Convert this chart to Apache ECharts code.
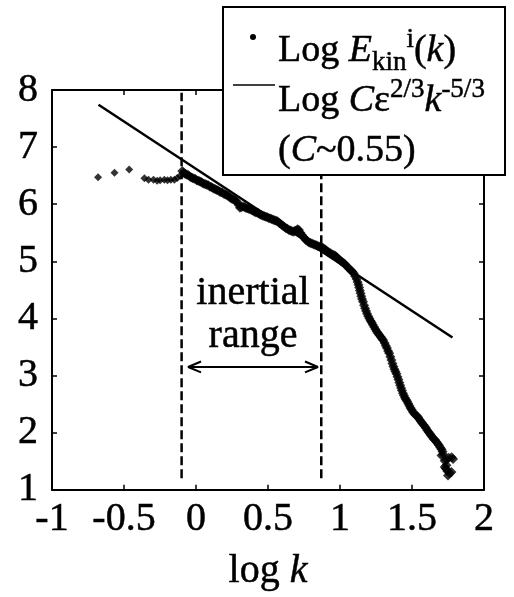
<!DOCTYPE html>
<html>
<head>
<meta charset="utf-8">
<script src="https://cdn.jsdelivr.net/npm/echarts@6/dist/echarts.min.js"></script>
<style>
html,body{margin:0;padding:0;background:#fff;}
#chart{width:514px;height:597px;}
</style>
</head>
<body>
<div id="chart"></div>
<script>
// ---- data ----
// sparse low-k points
const lowK = [-0.68, -0.566, -0.464, -0.358, -0.33, -0.295, -0.27, -0.249, -0.22, -0.198, -0.175, -0.15, -0.13, -0.11];
const lowE = [6.47, 6.55, 6.61, 6.456, 6.43, 6.43, 6.41, 6.42, 6.43, 6.42, 6.43, 6.43, 6.46, 6.50];
// dense band of points
const bandK = [
  -0.095, -0.085, -0.075, -0.065, -0.055, -0.045, -0.035, -0.025, -0.015, -0.005,
  0.005, 0.015, 0.025, 0.035, 0.045, 0.055, 0.065, 0.075, 0.085, 0.095,
  0.105, 0.115, 0.125, 0.135, 0.145, 0.155, 0.165, 0.175, 0.185, 0.195,
  0.205, 0.215, 0.225, 0.235, 0.245, 0.255, 0.265, 0.275, 0.285, 0.295,
  0.305, 0.315, 0.325, 0.335, 0.345, 0.355, 0.365, 0.375, 0.385, 0.395,
  0.405, 0.415, 0.425, 0.435, 0.445, 0.455, 0.465, 0.475, 0.485, 0.495,
  0.505, 0.515, 0.525, 0.535, 0.545, 0.555, 0.565, 0.575, 0.585, 0.595,
  0.605, 0.615, 0.625, 0.635, 0.645, 0.655, 0.665, 0.675, 0.685, 0.695,
  0.705, 0.715, 0.725, 0.735, 0.745, 0.755, 0.765, 0.775, 0.785, 0.795,
  0.805, 0.815, 0.825, 0.835, 0.845, 0.855, 0.865, 0.875, 0.885, 0.895,
  0.905, 0.915, 0.925, 0.935, 0.945, 0.955, 0.965, 0.975, 0.985, 0.995,
  1.005, 1.015, 1.025, 1.035, 1.045, 1.055, 1.065, 1.075, 1.085, 1.095,
  1.105, 1.115, 1.122, 1.128, 1.133, 1.138, 1.143, 1.148, 1.153, 1.160,
  1.167, 1.174, 1.181, 1.188, 1.196, 1.204, 1.212, 1.220, 1.228, 1.237,
  1.246, 1.255, 1.264, 1.273, 1.282, 1.291, 1.300, 1.310, 1.318, 1.326,
  1.334, 1.342, 1.350, 1.357, 1.364, 1.371, 1.378, 1.385, 1.392, 1.399,
  1.406, 1.412, 1.418, 1.424, 1.430, 1.437, 1.444, 1.451, 1.458, 1.466,
  1.474, 1.482, 1.490, 1.498, 1.507, 1.516, 1.525, 1.534, 1.543, 1.552,
  1.561, 1.570, 1.579, 1.588, 1.597, 1.606, 1.615, 1.624, 1.633, 1.642,
  1.651, 1.660, 1.669, 1.678, 1.687, 1.696, 1.705, 1.712,
  1.705, 1.716, 1.727, 1.740, 1.755, 1.775, 1.785, 1.727, 1.739, 1.745, 1.750, 1.762, 1.774, 1.735
];
const bandE = [
  6.58, 6.55, 6.53, 6.52, 6.51, 6.49, 6.47, 6.46, 6.45, 6.44,
  6.42, 6.41, 6.40, 6.39, 6.37, 6.36, 6.35, 6.34, 6.33, 6.31,
  6.30, 6.29, 6.27, 6.26, 6.25, 6.24, 6.22, 6.21, 6.20, 6.18,
  6.17, 6.16, 6.14, 6.12, 6.10, 6.09, 6.08, 6.06, 6.04, 5.99,
  5.94, 5.95, 5.96, 5.95, 5.94, 5.93, 5.92, 5.91, 5.90, 5.89,
  5.87, 5.86, 5.85, 5.84, 5.82, 5.81, 5.80, 5.79, 5.78, 5.77,
  5.76, 5.75, 5.74, 5.73, 5.72, 5.71, 5.70, 5.68, 5.66, 5.64,
  5.62, 5.60, 5.58, 5.57, 5.55, 5.54, 5.53, 5.52, 5.53, 5.54,
  5.56, 5.55, 5.50, 5.46, 5.43, 5.40, 5.37, 5.35, 5.33, 5.32,
  5.31, 5.30, 5.29, 5.28, 5.27, 5.26, 5.25, 5.24, 5.23, 5.21,
  5.19, 5.17, 5.15, 5.14, 5.12, 5.11, 5.10, 5.08, 5.05, 5.03,
  5.01, 4.99, 4.97, 4.95, 4.92, 4.89, 4.87, 4.84, 4.82, 4.79,
  4.74, 4.69, 4.64, 4.59, 4.54, 4.49, 4.44, 4.39, 4.34, 4.29,
  4.23, 4.18, 4.13, 4.08, 4.04, 4.00, 3.96, 3.93, 3.89, 3.85,
  3.81, 3.77, 3.74, 3.71, 3.68, 3.65, 3.62, 3.57, 3.52, 3.48,
  3.43, 3.39, 3.33, 3.27, 3.21, 3.16, 3.11, 3.07, 3.03, 2.98,
  2.93, 2.88, 2.83, 2.78, 2.74, 2.69, 2.65, 2.61, 2.58, 2.55,
  2.51, 2.47, 2.43, 2.40, 2.36, 2.33, 2.31, 2.29, 2.27, 2.23,
  2.20, 2.17, 2.14, 2.11, 2.08, 2.04, 2.01, 1.98, 1.95, 1.92,
  1.89, 1.87, 1.84, 1.81, 1.78, 1.74, 1.71, 1.67,
  1.60, 1.62, 1.51, 1.52, 1.56, 1.57, 1.54, 1.40, 1.43, 1.33, 1.25, 1.29, 1.31, 1.37
];
const fitK = [-0.677, 1.781];
const fitE = [7.743, 3.665];
const inertialBounds = [-0.1, 0.87];
const dashedSpan = [1.2, 7.95];
const arrowK = [-0.055, 0.847];
const arrowE = 3.15;
const arrowHeadK = 0.09;
const arrowHeadE = 0.095;
const xTickLabels = ['-1', '-0.5', '0', '0.5', '1', '1.5', '2'];
const yTickLabels = ['1', '2', '3', '4', '5', '6', '7', '8'];
const xMin = -1, xMax = 2, xStep = 0.5;
const yMin = 1, yMax = 8, yStep = 1;

// ---- chart ----
const FONT = "'Liberation Serif', 'Times New Roman', serif";
const chart = echarts.init(document.getElementById('chart'), null, {renderer: 'canvas'});

const lowPts = lowK.map((k, i) => [k, lowE[i]]);
const bandPts = bandK.map((k, i) => [k, bandE[i]]);
const fitLine = fitK.map((k, i) => [k, fitE[i]]);

const axisCommon = {
  axisLine: {show: true, onZero: false, lineStyle: {color: '#000', width: 2}},
  axisTick: {show: true, inside: true, length: 5, lineStyle: {color: '#000', width: 1.5}},
  splitLine: {show: false}
};
const TB = {textBorderColor: '#000', textBorderWidth: 0.5};

const option = {
  backgroundColor: '#fff',
  animation: false,
  grid: {left: 52, right: 30, top: 90, bottom: 99, containLabel: false},
  xAxis: [
    Object.assign({
      type: 'value', min: xMin, max: xMax, interval: xStep, position: 'bottom',
      name: '{a|log }{i|k}', nameLocation: 'middle', nameGap: 62,
      nameTextStyle: {rich: {
        a: Object.assign({fontFamily: FONT, fontSize: 40, color: '#000'}, TB),
        i: Object.assign({fontFamily: FONT, fontSize: 40, fontStyle: 'italic', color: '#000'}, TB)
      }},
      axisLabel: Object.assign({
        fontFamily: FONT, fontSize: 40, color: '#000', margin: 10,
        formatter: v => xTickLabels[Math.round((v - xMin) / xStep)]
      }, TB)
    }, axisCommon),
    Object.assign({
      type: 'value', min: xMin, max: xMax, interval: xStep, position: 'top',
      axisLabel: {show: false}
    }, axisCommon)
  ],
  yAxis: [
    Object.assign({
      type: 'value', min: yMin, max: yMax, interval: yStep, position: 'left',
      axisLabel: Object.assign({
        fontFamily: FONT, fontSize: 40, color: '#000', margin: 14,
        formatter: v => yTickLabels[Math.round((v - yMin) / yStep)]
      }, TB)
    }, axisCommon),
    Object.assign({
      type: 'value', min: yMin, max: yMax, interval: yStep, position: 'right',
      axisLabel: {show: false}
    }, axisCommon)
  ],
  series: [
    {
      type: 'line', data: [[inertialBounds[0], dashedSpan[0]], [inertialBounds[0], dashedSpan[1]]],
      symbol: 'none', lineStyle: {color: '#000', width: 2.5, type: [9, 4]}, silent: true, z: 2
    },
    {
      type: 'line', data: [[inertialBounds[1], dashedSpan[0]], [inertialBounds[1], dashedSpan[1]]],
      symbol: 'none', lineStyle: {color: '#000', width: 2.5, type: [9, 4]}, silent: true, z: 2
    },
    {
      type: 'line', data: fitLine, symbol: 'none',
      lineStyle: {color: '#000', width: 2.5}, z: 3
    },
    {
      type: 'scatter', data: lowPts, symbol: 'diamond', symbolSize: 8,
      itemStyle: {color: '#000'}, z: 4
    },
    {
      type: 'scatter', data: bandPts, symbol: 'diamond', symbolSize: 10,
      itemStyle: {color: '#000'}, z: 4
    },
    {
      type: 'line', data: [[arrowK[0], arrowE], [arrowK[1], arrowE]], symbol: 'none',
      lineStyle: {color: '#000', width: 2}, z: 3
    },
    {
      type: 'line', data: [[arrowK[0] + arrowHeadK, arrowE + arrowHeadE], [arrowK[0], arrowE], [arrowK[0] + arrowHeadK, arrowE - arrowHeadE]],
      symbol: 'none', lineStyle: {color: '#000', width: 2}, z: 3
    },
    {
      type: 'line', data: [[arrowK[1] - arrowHeadK, arrowE + arrowHeadE], [arrowK[1], arrowE], [arrowK[1] - arrowHeadK, arrowE - arrowHeadE]],
      symbol: 'none', lineStyle: {color: '#000', width: 2}, z: 3
    }
  ],
  graphic: [
    {type: 'text', x: 253, y: 293, z: 50,
      style: Object.assign({text: 'inertial', fontFamily: FONT, fontSize: 40, fill: '#000', stroke: '#000', lineWidth: 0.5, align: 'center', verticalAlign: 'middle'})},
    {type: 'text', x: 253, y: 336, z: 50,
      style: {text: 'range', fontFamily: FONT, fontSize: 40, fill: '#000', stroke: '#000', lineWidth: 0.5, align: 'center', verticalAlign: 'middle'}},
    // legend box
    {type: 'rect', z: 100, shape: {x: 223, y: 7, width: 282, height: 168},
      style: {fill: '#fff', stroke: '#000', lineWidth: 2}},
    {type: 'circle', z: 101, shape: {cx: 253, cy: 37, r: 3}, style: {fill: '#000'}},
    {type: 'line', z: 101, shape: {x1: 233, y1: 85, x2: 275, y2: 85}, style: {stroke: '#000', lineWidth: 1.5}},
    {type: 'text', z: 101, x: 278, y: 26,
      style: {
        text: '{a|Log }{i|E}{sub|kin}{sup|i}{a|(}{i|k}{a|)}',
        verticalAlign: 'top', align: 'left', stroke: '#000', lineWidth: 0.5,
        rich: {
          a: {fontFamily: FONT, fontSize: 38, lineHeight: 50, fill: '#000'},
          i: {fontFamily: FONT, fontSize: 38, fontStyle: 'italic', lineHeight: 50, fill: '#000'},
          sub: {fontFamily: FONT, fontSize: 27, lineHeight: 32, verticalAlign: 'bottom', fill: '#000'},
          sup: {fontFamily: FONT, fontSize: 27, lineHeight: 32, verticalAlign: 'top', fill: '#000'}
        }
      }},
    {type: 'text', z: 101, x: 278, y: 76,
      style: {
        text: '{a|Log }{i|C}{a|ε}{sup|2/3}{i|k}{sup|-5/3}',
        verticalAlign: 'top', align: 'left', stroke: '#000', lineWidth: 0.5,
        rich: {
          a: {fontFamily: FONT, fontSize: 38, lineHeight: 50, fill: '#000'},
          i: {fontFamily: FONT, fontSize: 38, fontStyle: 'italic', lineHeight: 50, fill: '#000'},
          sup: {fontFamily: FONT, fontSize: 27, lineHeight: 16, verticalAlign: 'top', fill: '#000'}
        }
      }},
    {type: 'text', z: 101, x: 278, y: 126,
      style: {
        text: '{a|(}{i|C}{a|~0.55)}',
        verticalAlign: 'top', align: 'left', stroke: '#000', lineWidth: 0.5,
        rich: {
          a: {fontFamily: FONT, fontSize: 38, lineHeight: 50, fill: '#000'},
          i: {fontFamily: FONT, fontSize: 38, fontStyle: 'italic', lineHeight: 50, fill: '#000'}
        }
      }}
  ]
};
chart.setOption(option);
</script>
</body>
</html>
